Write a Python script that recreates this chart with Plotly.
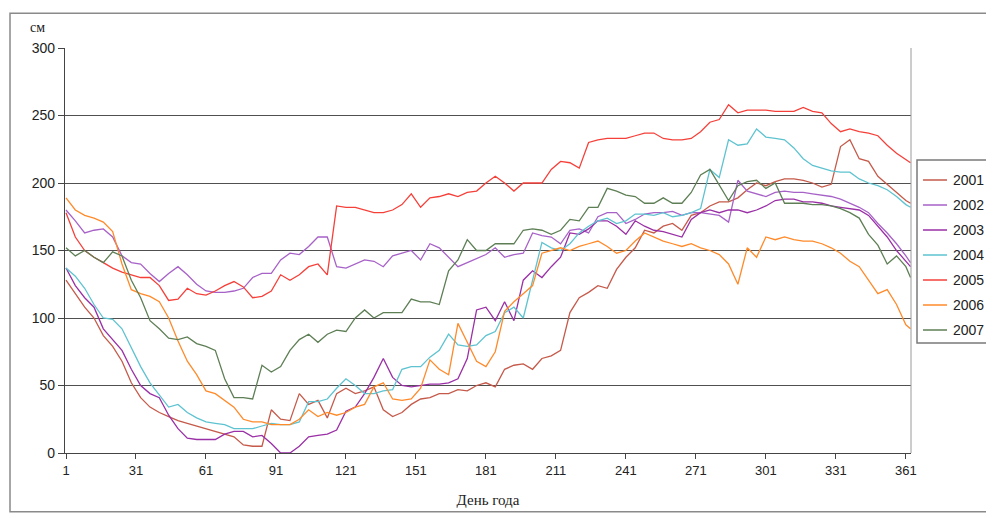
import plotly.graph_objects as go

days = list(range(1, 362, 4)) + [363]

y2001 = [128,118,108,100,87,79,68,52,41,34,30,27,24,22,20,18,16,14,12,6,5,5,32,25,24,44,36,39,26,44,48,44,46,49,32,27,30,36,40,41,44,44,47,46,50,52,49,62,65,66,62,70,72,76,104,115,119,124,122,136,145,152,165,163,168,170,165,176,178,183,186,186,189,195,200,198,201,203,203,202,200,197,199,227,232,218,216,205,199,193,187,185]
y2002 = [180,172,163,165,166,160,146,141,140,133,127,133,138,132,125,120,119,119,120,122,130,133,133,143,148,147,153,160,160,138,137,140,143,142,138,146,148,150,143,155,152,145,138,141,144,147,152,145,147,148,163,161,160,155,165,166,163,175,178,178,170,173,177,178,178,179,176,178,178,177,176,171,202,194,192,190,193,194,193,193,192,191,190,188,185,182,178,170,163,155,146,141]
y2003 = [137,124,115,108,92,84,76,62,50,44,41,28,18,11,10,10,10,14,16,16,12,13,7,0,0,5,12,13,14,17,31,34,44,56,70,56,50,49,50,51,51,52,55,70,106,108,98,112,98,128,135,130,138,145,163,162,166,172,172,168,162,172,168,165,164,162,160,173,178,180,178,180,180,178,180,183,187,188,188,186,186,185,183,182,181,180,176,168,160,150,142,138]
y2004 = [137,131,122,110,100,99,92,78,64,52,43,34,36,30,26,23,22,21,18,18,18,20,22,21,21,23,38,38,40,48,55,50,44,44,46,47,62,64,64,71,76,88,80,79,80,87,90,104,108,100,128,156,152,150,155,163,168,172,174,170,172,177,177,176,178,175,176,178,181,210,204,232,228,229,240,234,233,232,226,218,213,211,209,208,208,203,200,198,195,190,184,182]
y2005 = [178,160,150,145,141,137,134,132,130,130,124,113,114,122,118,117,120,124,127,123,115,116,120,132,128,132,138,140,132,183,182,182,180,178,178,180,184,192,182,189,190,192,190,193,194,200,205,200,194,200,200,200,210,216,215,211,230,232,233,233,233,235,237,237,233,232,232,233,238,245,247,258,252,254,254,254,253,253,253,256,253,252,244,238,240,238,237,235,228,222,217,215]
y2006 = [189,180,176,174,171,164,140,121,118,116,112,100,83,68,58,46,44,39,34,25,23,23,21,21,21,25,32,27,30,28,30,34,36,49,52,40,39,40,48,69,62,58,96,82,68,64,75,105,112,118,124,148,150,152,150,153,155,157,153,148,150,157,163,160,157,155,153,155,152,150,147,140,125,152,145,160,158,160,158,157,157,155,152,148,142,138,128,118,121,110,95,92]
y2007 = [152,146,150,145,141,149,146,128,115,98,92,85,84,86,81,79,76,55,41,41,40,65,60,64,76,84,88,82,88,91,90,100,106,100,104,104,104,114,112,112,110,135,143,158,150,150,155,155,155,165,166,165,162,165,173,172,182,182,196,194,191,190,185,185,189,185,185,193,206,210,198,187,198,201,202,196,200,185,185,185,184,184,183,181,178,174,162,154,140,146,138,130]

years = ["2001", "2002", "2003", "2004", "2005", "2006", "2007"]
series = [y2001, y2002, y2003, y2004, y2005, y2006, y2007]
colors = ["#c55a4a", "#a762c8", "#9a2fa6", "#5ec3d0", "#f5403a", "#ff8a2a", "#5e7f55"]

x_ticks = list(range(1, 362, 30))
y_ticks = [0, 50, 100, 150, 200, 250, 300]

fig = go.Figure()
for name, ys, c in zip(years, series, colors):
    fig.add_trace(go.Scatter(x=days, y=ys, mode="lines", name=name,
                             line=dict(color=c, width=1.3)))

fig.update_layout(
    width=986, height=510,
    margin=dict(l=57, r=83, t=40, b=65, autoexpand=False),
    paper_bgcolor="white", plot_bgcolor="white",
    font=dict(family="Liberation Sans, Arial, sans-serif", size=14, color="#222"),
    showlegend=False,
)
fig.update_xaxes(range=[0.57, 363.2], tickmode="array", tickvals=x_ticks,
                 ticktext=[str(t) for t in x_ticks],
                 showgrid=False, zeroline=False,
                 showline=True, linecolor="#444", linewidth=1.3,
                 ticks="outside", ticklen=5, tickcolor="#444",
                 tickfont=dict(size=13, color="#222"),
                 title=dict(text="День года", font=dict(family="Liberation Serif, Times New Roman, serif", size=15, color="#222"), standoff=17))
fig.update_yaxes(range=[0, 300], tickmode="array", tickvals=y_ticks,
                 showgrid=True, gridcolor="#505050", gridwidth=1.3,
                 zeroline=False, showline=True, linecolor="#444", linewidth=1.3,
                 ticks="outside", ticklen=6, tickcolor="#444",
                 tickfont=dict(size=14, color="#222"))

fig.add_annotation(text="см", xref="paper", yref="paper", x=-0.033, y=1.05,
                   xanchor="center", yanchor="middle", showarrow=False,
                   font=dict(family="Liberation Serif, Times New Roman, serif", size=14, color="#222"))
# right border of plot area
fig.add_shape(type="line", xref="paper", yref="paper", x0=1, x1=1, y0=0, y1=1,
              line=dict(color="#9a9a9a", width=1))
# outer chart-area frame
fig.add_shape(type="rect", xref="paper", yref="paper", x0=-0.065, x1=1.2,
              y0=-0.145, y1=1.086, line=dict(color="#8a8a8a", width=1.5),
              layer="below")

# legend box (partly beyond the right edge, as in the original)
fig.add_shape(type="rect", xref="paper", yref="paper", x0=1.0071, x1=1.2,
              y0=0.2716, y1=0.7235, line=dict(color="#7a7a7a", width=1.5),
              fillcolor="white", layer="below")
for i, (name, c) in enumerate(zip(years, colors)):
    yc = (453 - (180 + 25 * i)) / 405
    fig.add_shape(type="line", xref="paper", yref="paper", x0=1.0142, x1=1.0426,
                  y0=yc, y1=yc, line=dict(color=c, width=1.5))
    fig.add_annotation(text=name, xref="paper", yref="paper", x=1.0473, y=yc,
                       xanchor="left", yanchor="middle", showarrow=False,
                       font=dict(family="Liberation Sans, Arial, sans-serif", size=14, color="#222"))

fig.write_html("out.html")
